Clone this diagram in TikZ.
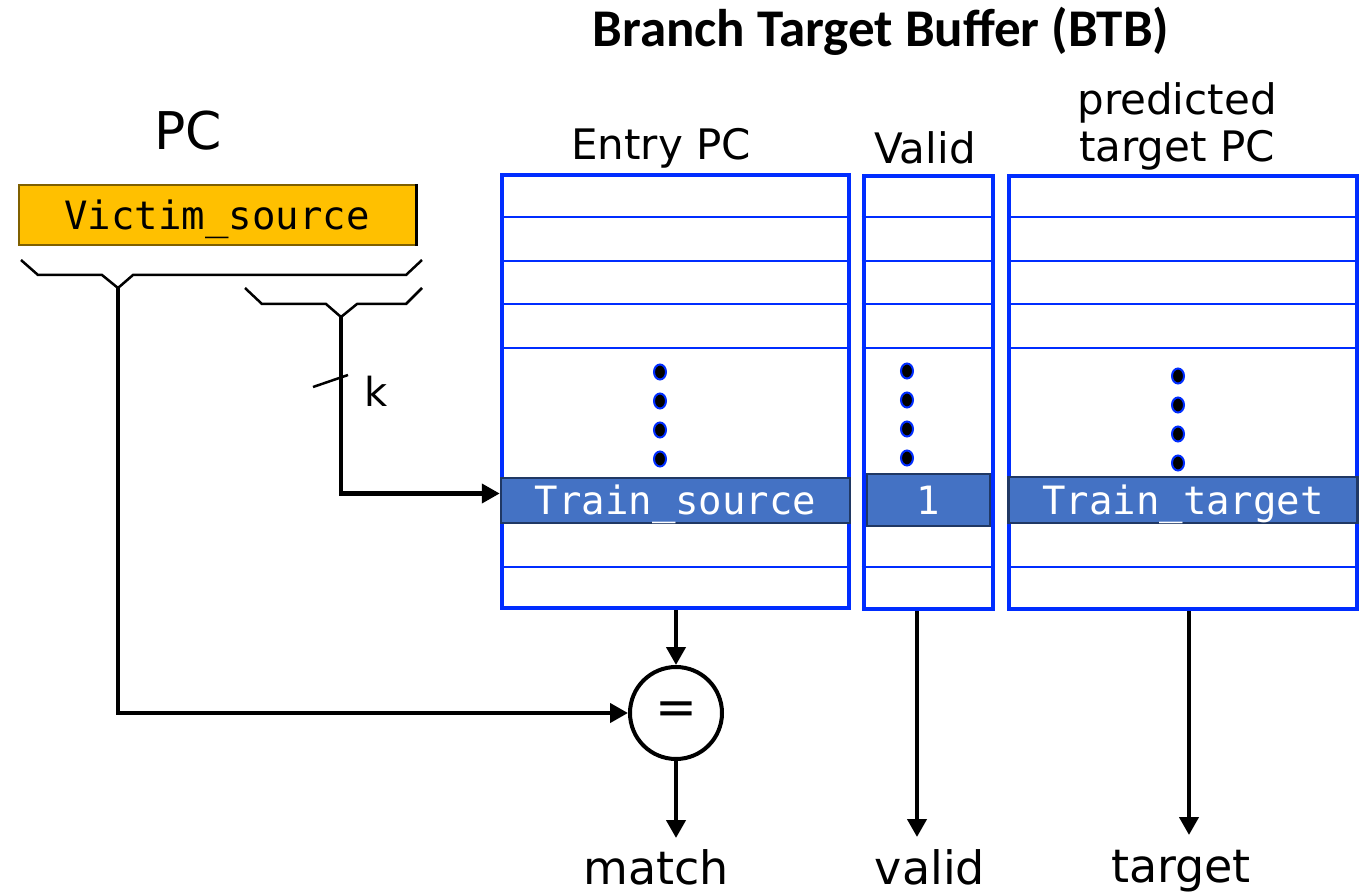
\documentclass[tikz,border=0pt]{standalone}
\usepackage{fontspec}
\setmainfont{DejaVu Sans}
\setmonofont{DejaVu Sans Mono}
\newfontfamily\titlefont{Carlito}
\usetikzlibrary{arrows.meta,positioning,calc}
\definecolor{btbblue}{RGB}{0,45,255}
\definecolor{hitblue}{RGB}{68,114,196}
\definecolor{hitedge}{RGB}{32,56,100}
\definecolor{pcorange}{RGB}{255,192,0}
\definecolor{pcedge}{RGB}{127,96,0}
\tikzset{
  % 表格列
  btbcol/.style={draw=btbblue, line width=4pt, minimum height=433pt, inner sep=0pt},
  % 行分隔线
  rowline/.style={btbblue, line width=2.5pt},
  % 等宽字
  mono/.style={font=\ttfamily\fontsize{39}{42}\selectfont, text height=28.5pt, text depth=0pt},
  % 命中行
  hit/.style={
    mono,
    draw=hitedge,
    fill=hitblue,
    line width=2.5pt,
    text=white,
    inner sep=0pt
  },
  % 省略点
  bdot/.style={fill=black, draw=btbblue, line width=2pt},
  % 连线
  wire/.style={line width=4.2pt},
  arr/.style={wire, -{Triangle[length=18pt, width=19pt]}},
  brace/.style={line width=2.5pt, line join=miter},
  % 文字
  hdr/.style={font=\fontsize{42}{47}\selectfont, inner sep=0pt, align=center},
  outlab/.style={font=\fontsize{46}{50}\selectfont, inner sep=0pt, anchor=base},
}

\begin{document}
\begin{tikzpicture}[x=1pt, y=-1pt]
    \useasboundingbox (0,0) rectangle (1365,893);

    % 标题
    \node[font=\titlefont\bfseries\fontsize{53}{57}\selectfont] (title) at (881,31) {Branch Target Buffer (BTB)};

    % PC 寄存器
    \node[font=\fontsize{52}{56}\selectfont, inner sep=0pt] (pclab) at (188,131) {PC};
    \node[mono, draw=pcedge, fill=pcorange, line width=2pt, minimum width=397pt, minimum height=60pt,
          inner sep=0pt] (pcreg) at (217,215) {Victim\_source};
    \draw[line width=3pt] (pcreg.north east) -- (pcreg.south east);

    % 位段划分
    \coordinate (tagbits) at (118,288);
    \coordinate (idxbits) at (341,317);
    \draw[brace] (21,260) -- (38,275) -- (102,275) -- (tagbits) -- (133,275) -- (406,275) -- (422,260);
    \draw[brace] (245,288) -- (262,304) -- (326,304) -- (idxbits) -- (357,304) -- (406,304) -- (422,288);
    \draw[brace] (313,387) -- (348,375);
    \node[font=\fontsize{40}{44}\selectfont, inner sep=0pt, anchor=base] (k) at (376,406) {k};

    % BTB 三列
    \node[btbcol, minimum width=347pt] (entry) at (675.5,391.5) {};
    \node[btbcol, minimum width=129pt] (valid) at (928,392.5) {};
    \node[btbcol, minimum width=348pt] (target) at (1183,392.5) {};
    \foreach \c in {entry,valid,target}
        \foreach \y in {217,261,304,348,567}
            \draw[rowline] (\c.west |- 0,\y) -- (\c.east |- 0,\y);

    % 列标题
    \node[hdr] (entryhd) at (661,148) {Entry PC};
    \node[hdr] (validhd) at (925,148) {Valid};
    \node[hdr] (targethd) at (1177,126) {predicted\\target PC};

    % 省略点
    \foreach \y in {372,401,430,459} {
        \draw[bdot] (660,\y) ellipse [x radius=6, y radius=7.5];
        \draw[bdot] (907,\y-1) ellipse [x radius=6, y radius=7.5];
        \draw[bdot] (1178,\y+4) ellipse [x radius=6, y radius=7.5];
    }

    % 命中的表项
    \node[hit, minimum width=349pt, minimum height=45pt] (trsrc) at (675.5,500.5) {Train\_source};
    \node[hit, minimum width=123pt, minimum height=52pt] (trvalid) at (928.5,500) {1};
    \node[hit, minimum width=349pt, minimum height=46pt] (trtgt) at (1183,500) {Train\_target};

    % 比较器
    \node[draw, circle, line width=4pt, minimum size=92pt, inner sep=0pt,
          font=\fontsize{50}{54}\selectfont] (eq) at (676,713) {=};

    % 连接
    \draw[arr] (idxbits) |- ([yshift=7pt]trsrc.west);
    \draw[arr] (tagbits) |- (eq);
    \draw[arr] (entry.south -| eq) -- (eq);

    % 输出
    \coordinate (matchend) at (676,838);
    \coordinate (validend) at (917,837);
    \coordinate (targetend) at (1189,835);
    \draw[arr] (eq) -- (matchend);
    \draw[arr] (valid.south -| validend) -- (validend);
    \draw[arr] (target.south -| targetend) -- (targetend);
    \node[outlab] (match) at (656,884) {match};
    \node[outlab] (validout) at (930,884) {valid};
    \node[outlab] (targetout) at (1181,882) {target};
\end{tikzpicture}
\end{document}
